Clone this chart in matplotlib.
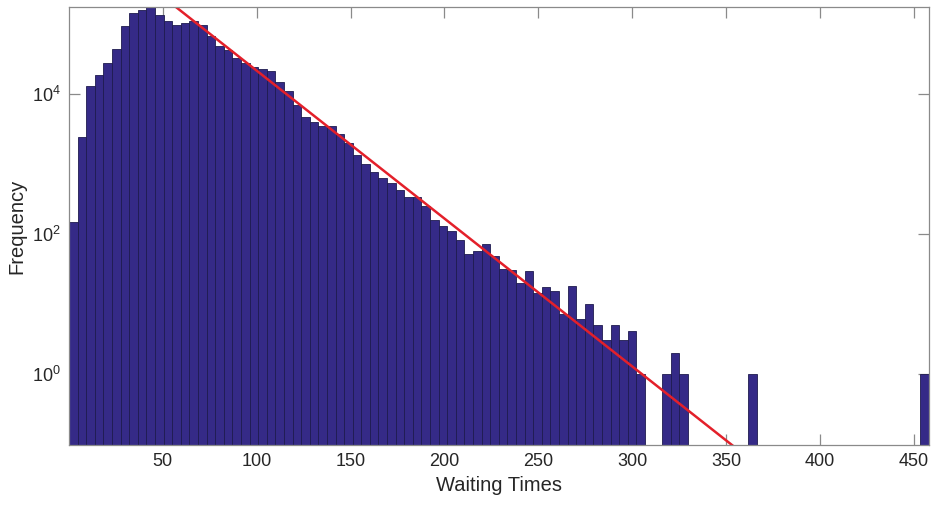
import numpy as np
import matplotlib
matplotlib.use("Agg")
import matplotlib.pyplot as plt
from matplotlib.ticker import FixedLocator, LogFormatterSciNotation, NullLocator

# ---- data ----
bin_min = 0.0
bin_max = 458.0
counts = [
    148, 2430, 12900, 18100, 27700, 43000, 92700, 141000, 158000, 172000,
    132000, 107000, 95700, 103000, 107000, 95700, 66700, 48500, 42100, 32000,
    27500, 24300, 22400, 21300, 14800, 11000, 6900, 4690, 3980, 3460,
    3400, 2660, 1995, 1320, 990, 760, 625, 525, 417, 338,
    330, 247, 157, 129, 110, 81, 51, 57, 71, 48,
    31, 30, 20, 29, 14, 17, 15, 7, 18, 6,
    10, 5, 3, 5, 3, 4, 1, 0, 0, 1,
    2, 1, 0, 0, 0, 0, 0, 0, 0, 1,
    0, 0, 0, 0, 0, 0, 0, 0, 0, 0,
    0, 0, 0, 0, 0, 0, 0, 0, 0, 1,
]
fit_amplitude = 2.74e6
fit_tau = 20.57
x_ticks = [50, 100, 150, 200, 250, 300, 350, 400, 450]
y_ticks = [1e0, 1e2, 1e4]
y_limits = (0.0957, 1.72e5)
x_label = "Waiting Times"
y_label = "Frequency"

plt.rcParams['font.family'] = ['Liberation Sans', 'DejaVu Sans']
plt.rcParams['mathtext.default'] = 'regular'

counts = np.asarray(counts, dtype=float)
edges = np.linspace(bin_min, bin_max, len(counts) + 1)
widths = np.diff(edges)
mask = counts > 0

fig = plt.figure(figsize=(9.31, 5.05), dpi=100)
ax = fig.add_axes([69 / 931, 1 - 445 / 505, (928.7 - 69) / 931, (445 - 7) / 505])
ax.set_yscale('log')

ax.bar(edges[:-1][mask], counts[mask], width=widths[mask], align='edge',
       bottom=1e-3, color='#352a87', edgecolor='#1e1b4f', linewidth=0.6, zorder=2)

xf = np.linspace(bin_min, bin_max, 400)
ax.plot(xf, fit_amplitude * np.exp(-xf / fit_tau), color='#e3202a', lw=1.8, zorder=3)

ax.set_xlim(bin_min, bin_max)
ax.set_ylim(*y_limits)
ax.xaxis.set_major_locator(FixedLocator(x_ticks))
ax.yaxis.set_major_locator(FixedLocator(y_ticks))
ax.yaxis.set_major_formatter(LogFormatterSciNotation())
ax.yaxis.set_minor_locator(NullLocator())
ax.xaxis.set_minor_locator(NullLocator())

axis_col = '#8a8a8a'
for s in ax.spines.values():
    s.set_color(axis_col)
    s.set_linewidth(0.9)
    s.set_zorder(4)
ax.tick_params(direction='in', length=8, width=0.9, color=axis_col,
               top=True, right=True, labelsize=13, labelcolor='#262626', pad=6)

ax.set_xlabel(x_label, fontsize=14.5, color='#262626', labelpad=4)
ax.set_ylabel(y_label, fontsize=14.5, color='#262626', labelpad=4)

fig.savefig('out.png', dpi=100)
